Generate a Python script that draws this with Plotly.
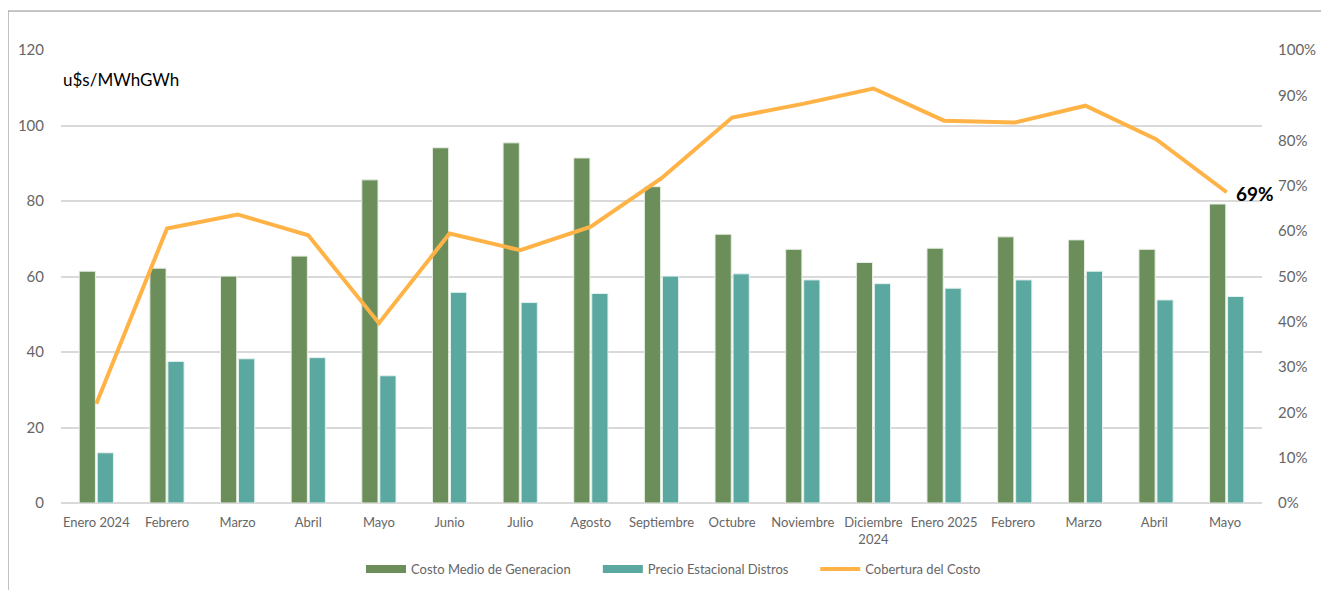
import plotly.graph_objects as go

categories = ["Enero 2024", "Febrero", "Marzo", "Abril", "Mayo", "Junio", "Julio", "Agosto",
              "Septiembre", "Octubre", "Noviembre", "Diciembre<br>2024", "Enero 2025",
              "Febrero ", "Marzo ", "Abril ", "Mayo "]
costo_medio = [61.4, 62.2, 60.1, 65.4, 85.6, 94.1, 95.4, 91.4, 83.8, 71.2, 67.2, 63.7,
               67.5, 70.5, 69.7, 67.2, 79.2]
precio_estacional = [13.3, 37.5, 38.2, 38.5, 33.7, 55.8, 53.1, 55.5, 60.1, 60.7, 59.1, 58.1,
                     56.9, 59.1, 61.4, 53.8, 54.7]
cobertura = [0.219, 0.606, 0.637, 0.591, 0.397, 0.595, 0.558, 0.610, 0.717, 0.851, 0.881,
             0.915, 0.844, 0.840, 0.877, 0.803, 0.686]
y_ticks_left = [0, 20, 40, 60, 80, 100, 120]
y_ticks_right = [0, 0.1, 0.2, 0.3, 0.4, 0.5, 0.6, 0.7, 0.8, 0.9, 1.0]

FONT = "Lato"
GREEN = "#6b8e5b"
TEAL = "#5ba8a1"
ORANGE = "#ffb347"
TICK = "#666666"

fig = go.Figure()
fig.add_trace(go.Bar(x=categories, y=costo_medio, name="Costo Medio de Generacion",
                     showlegend=False,
                     marker=dict(color=GREEN, line=dict(color="#e8efe4", width=1))))
fig.add_trace(go.Bar(x=categories, y=precio_estacional, name="Precio Estacional Distros",
                     showlegend=False,
                     marker=dict(color=TEAL, line=dict(color="#e4f1ef", width=1))))
fig.add_trace(go.Scatter(x=categories, y=cobertura, name="Cobertura del Costo", yaxis="y2",
                         mode="lines", line=dict(color=ORANGE, width=4), showlegend=False))

# legend entries (wide swatches like the reference), each in its own legend for spacing
fig.add_trace(go.Scatter(x=[None], y=[None], mode="lines", name="Costo Medio de Generacion",
                         line=dict(color=GREEN, width=8), legend="legend"))
fig.add_trace(go.Scatter(x=[None], y=[None], mode="lines", name="Precio Estacional Distros",
                         line=dict(color=TEAL, width=8), legend="legend2"))
fig.add_trace(go.Scatter(x=[None], y=[None], mode="lines", name="Cobertura del Costo",
                         line=dict(color=ORANGE, width=4), legend="legend3"))

fig.add_annotation(x=categories[-1], y=cobertura[-1], yref="y2", text="<b>69%</b>",
                   showarrow=False, xanchor="left", yanchor="middle", xshift=7, yshift=-1,
                   font=dict(family=FONT, size=19, color="#000000"))
fig.add_annotation(x=0.0, y=0.934, xref="paper", yref="paper", text="u$s/MWhGWh",
                   showarrow=False, xanchor="left", yanchor="middle",
                   font=dict(family=FONT, size=17, color="#000000"))

# outer frame (top and left edges visible)
fig.add_shape(type="line", xref="paper", yref="paper", x0=-0.0441, x1=1.1, y0=1.086, y1=1.086,
              line=dict(color="#8c8c8c", width=1))
fig.add_shape(type="line", xref="paper", yref="paper", x0=-0.0441, x1=-0.0441, y0=-0.3, y1=1.086,
              line=dict(color="#8c8c8c", width=1))

leg_common = dict(orientation="h", xanchor="left", y=-0.146, yanchor="middle",
                  font=dict(family=FONT, size=13, color=TICK), itemwidth=40,
                  bgcolor="rgba(0,0,0,0)")

fig.update_layout(
    width=1313, height=582,
    margin=dict(l=53, r=59, t=42, b=87, autoexpand=False),
    paper_bgcolor="white", plot_bgcolor="white",
    barmode="group", bargap=0.49, bargroupgap=0.1,
    font=dict(family=FONT, size=13, color=TICK),
    showlegend=True,
    legend=dict(x=0.2498, **leg_common),
    legend2=dict(x=0.447, **leg_common),
    legend3=dict(x=0.628, **leg_common),
    xaxis=dict(showgrid=False, tickfont=dict(size=13, color=TICK), ticks="",
               showline=False, tickangle=0, ticklabelstandoff=10,
               categoryorder="array", categoryarray=categories,
               range=[-0.5, len(categories) - 0.5]),
    yaxis=dict(range=[0, 120], tickvals=y_ticks_left, showgrid=True, gridcolor="#d9d9d9",
               gridwidth=2, zeroline=True, zerolinecolor="#d9d9d9", zerolinewidth=2,
               tickfont=dict(size=15, color=TICK), ticks="", ticklabelstandoff=16),
    yaxis2=dict(range=[0, 1.0], tickvals=y_ticks_right, tickformat=".0%", overlaying="y",
                side="right", showgrid=False, zeroline=False,
                tickfont=dict(size=15, color=TICK), ticks="", ticklabelstandoff=15),
)

fig.write_html("out.html")
